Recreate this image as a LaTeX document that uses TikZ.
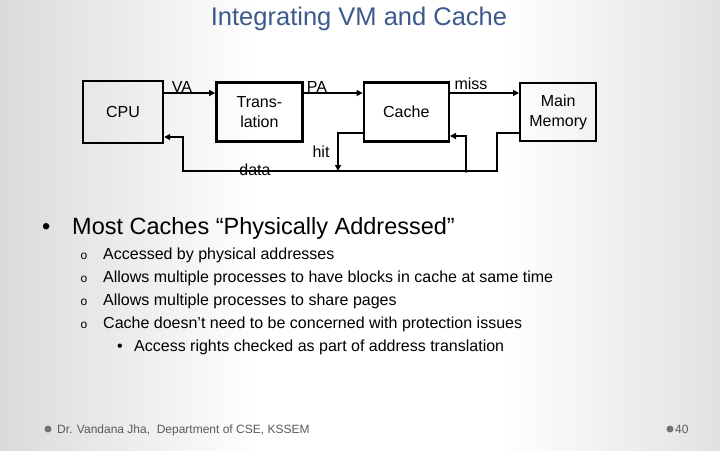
\documentclass[tikz,border=0pt]{standalone}
\usepackage{fontspec}
\setmainfont{Liberation Sans}
\usetikzlibrary{arrows.meta,positioning,calc}
\definecolor{titleblue}{HTML}{3D5A8C}
\definecolor{footgray}{HTML}{5A5A5A}
\definecolor{edgegray}{HTML}{DADADA}
\tikzset{
  unitbox/.style={
    draw=black,
    line width=2.4pt,
    align=center,
    inner sep=0pt,
    font=\fontsize{16}{20}\selectfont
  },
  sigarrow/.style={
    -{Triangle[length=6pt,width=6pt]},
    line width=2pt
  },
  siglabel/.style={
    anchor=base,
    inner sep=0pt,
    font=\fontsize{16}{18}\selectfont
  },
  bodytext/.style={
    anchor=base west,
    inner sep=0pt,
    font=\fontsize{16}{18}\selectfont
  },
  subdot/.style={
    anchor=base,
    inner sep=0pt,
    font=\fontsize{12}{14}\selectfont
  },
  foottext/.style={
    anchor=base west,
    inner sep=0pt,
    text=footgray,
    font=\fontsize{12}{14}\selectfont
  }
}

\begin{document}
\begin{tikzpicture}[x=1pt,y=-1pt]
    \useasboundingbox (0,0) rectangle (720,450);
    % background
    \fill[white] (0,0) rectangle (720,450);
    \shade[left color=edgegray, right color=white] (0,0) rectangle (260,450);
    \shade[left color=white, right color=edgegray!80] (500,0) rectangle (720,450);

    % title
    \node[anchor=base, inner sep=0pt, text=titleblue, font=\fontsize{25.5}{30}\selectfont] (title) at (359,25) {Integrating VM and Cache};

    % diagram
    \node[unitbox, minimum width=80pt, minimum height=62pt] (cpu) at (123,112) {CPU};
    \node[unitbox, minimum width=86pt, minimum height=59pt, right=51pt of cpu] (trans) {Trans-\\lation};
    \node[unitbox, minimum width=85pt, minimum height=59pt, right=59pt of trans] (cache) {Cache};
    \node[unitbox, minimum width=76pt, minimum height=58pt, right=69pt of cache] (mem) {Main\\Memory};

    \node[siglabel] (va) at (182,92) {VA};
    \node[siglabel] (pa) at (317,92) {PA};
    \node[siglabel] (miss) at (471,89) {miss};
    \node[siglabel] (hit) at (321,157) {hit};
    \node[siglabel] (data) at (255,175) {data};

    \coordinate (hitend) at (338,171);
    \coordinate (busright) at (497,171);
    \coordinate (busleft) at (183,171);
    \coordinate (branch) at (466,171);

    \draw[sigarrow] (cpu.east |- 0,93) -- (trans.west |- 0,93);
    \draw[sigarrow] (trans.east |- 0,93) -- (cache.west |- 0,93);
    \draw[sigarrow] (cache.east |- 0,93) -- (mem.west |- 0,93);
    \draw[sigarrow] (cache.west |- 0,133) -| (hitend);
    \draw[sigarrow] (mem.west |- 0,133) -| (busright) -- (busleft) |- (cpu.east |- 0,137);
    \draw[sigarrow] (branch) |- (cache.east |- 0,136);
    \fill (branch) circle (1.8pt);

    % bullets
    \node[anchor=base west, inner sep=0pt, font=\fontsize{23.5}{26}\selectfont] (dot0) at (42,234) {•};
    \node[anchor=base west, inner sep=0pt, font=\fontsize{23.5}{26}\selectfont] (head) at (72,234) {Most Caches “Physically Addressed”};

    \node[subdot] (o1) at (84,259) {o};
    \node[bodytext] (b1) at (103,259) {Accessed by physical addresses};
    \node[subdot] (o2) at (84,282) {o};
    \node[bodytext] (b2) at (103,282) {Allows multiple processes to have blocks in cache at same time};
    \node[subdot] (o3) at (84,305) {o};
    \node[bodytext] (b3) at (103,305) {Allows multiple processes to share pages};
    \node[subdot] (o4) at (84,328) {o};
    \node[bodytext] (b4) at (103,328) {Cache doesn't need to be concerned with protection issues};
    \node[bodytext] (dot5) at (117,351) {•};
    \node[bodytext] (b5) at (134,351) {Access rights checked as part of address translation};

    % footer
    \fill[black!55] (48,429) circle (3.5pt);
    \node[foottext] (author) at (57,433) {Dr. Vandana Jha,\ \ Department of CSE, KSSEM};
    \fill[black!55] (670,429) circle (3.5pt);
    \node[foottext] (page) at (675,433) {40};
  \end{tikzpicture}
\end{document}
